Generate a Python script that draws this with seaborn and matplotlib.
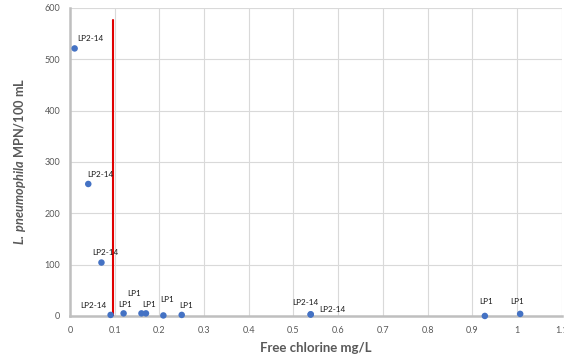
import matplotlib
matplotlib.use("Agg")
import matplotlib.pyplot as plt
from matplotlib.ticker import MultipleLocator
import seaborn as sns
import pandas as pd

# Data
chlorine = [0.0105, 0.041, 0.0705, 0.091, 0.12, 0.16, 0.17, 0.209, 0.25, 0.5385, 0.5385, 0.928, 1.007]
mpn = [521, 257, 104, 2, 5, 5, 5, 1, 2, 3, 3, 0, 4]
serogroup = ["LP2-14", "LP2-14", "LP2-14", "LP2-14", "LP1", "LP1", "LP1", "LP1", "LP1",
             "LP2-14", "LP2-14", "LP1", "LP1"]
# label offsets (pixels) of the label's left/centre relative to each marker
label_dx = [3, -1, -9, -30, -5, -14, -4, -3, -2, -18, 9, -6, -10]
label_dy = [10, 9, 10, 9, 9, 20, 9, 16, 9, 12, 5, 14, 12]
threshold_x = 0.097
threshold_top = 576

sns.set_style("whitegrid")
plt.rcParams["font.family"] = ["Lato", "DejaVu Sans"]
plt.rcParams["mathtext.fontset"] = "custom"
plt.rcParams["mathtext.bfit"] = "Lato:italic:bold"
plt.rcParams["mathtext.rm"] = "Lato"

df = pd.DataFrame({"chlorine": chlorine, "mpn": mpn, "sg": serogroup})

fig = plt.figure(figsize=(5.64, 3.57), dpi=100)
ax = fig.add_axes([0.124, 0.115, 0.872, 0.863])

sns.scatterplot(data=df, x="chlorine", y="mpn", ax=ax, color="#4472C4",
                s=22, edgecolor="none", zorder=4, clip_on=False)

ax.plot([threshold_x, threshold_x], [0, threshold_top], color="#E00000", lw=1.5, zorder=3)

for x, y, t, dx, dy in zip(chlorine, mpn, serogroup, label_dx, label_dy):
    ax.annotate(t, (x, y), xytext=(dx, dy), textcoords="offset pixels",
                fontsize=5.9, color="#1a1a1a", ha="left", va="center", zorder=5)

ax.set_xlim(0, 1.1)
ax.set_ylim(0, 600)
ax.xaxis.set_minor_locator(MultipleLocator(0.05))
ax.yaxis.set_minor_locator(MultipleLocator(50))
ax.set_xticks([i / 10 for i in range(12)])
ax.set_xticklabels(["0", "0.1", "0.2", "0.3", "0.4", "0.5", "0.6", "0.7", "0.8", "0.9", "1", "1.1"])
ax.set_yticks([0, 100, 200, 300, 400, 500, 600])

ax.grid(True, which="major", color="#D9D9D9", lw=0.8)
ax.grid(False, which="minor")
for s in ["top", "right"]:
    ax.spines[s].set_visible(False)
for s in ["left", "bottom"]:
    ax.spines[s].set_color("#BFBFBF")
    ax.spines[s].set_linewidth(1.8)
    ax.spines[s].set_zorder(2)

ax.tick_params(axis="both", which="major", labelsize=6.5, labelcolor="#595959",
               length=3, color="#BFBFBF", width=0.8, direction="out", pad=4)
ax.tick_params(axis="both", which="minor", length=3, color="#BFBFBF", width=0.8, direction="out")

ax.set_xlabel("Free chlorine mg/L", fontsize=9.5, fontweight="bold", color="#595959", labelpad=5)
ax.set_ylabel(r"$\mathbfit{L.\,pneumophila}$ MPN/100 mL", fontsize=9.2, fontweight="bold",
              color="#595959", labelpad=12)

fig.savefig("out.png", dpi=100)
